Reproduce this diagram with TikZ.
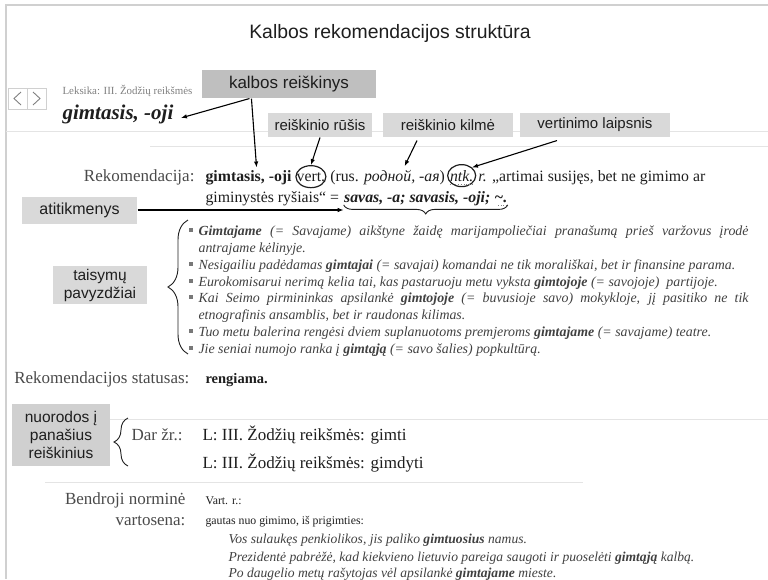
\documentclass[tikz,border=0pt]{standalone}
\usepackage{fontspec}
\setmainfont{Liberation Serif}
\setsansfont{Liberation Sans}
\usetikzlibrary{positioning,arrows.meta,shapes.geometric,decorations.pathreplacing}
\definecolor{lbox}{HTML}{D9D9D9}
\definecolor{dbox}{HTML}{BFBFBF}
\definecolor{lrule}{HTML}{E4E4E4}
\definecolor{frame}{HTML}{D0D0D0}
\definecolor{ltxt}{HTML}{4A4A4A}
\definecolor{ink}{HTML}{1E1E1E}

\begin{document}
\begin{tikzpicture}[x=1pt, y=-1pt, >={Latex[length=6pt,width=4.5pt]}, line width=1.1pt,
  tag/.style={fill=lbox, inner sep=0pt, align=center, text=ink,
    font=\sffamily\fontsize{15.5}{18}\selectfont},
  rtxt/.style={inner sep=0pt, text=ink, font=\fontsize{15.8}{18}\selectfont},
  lbl/.style={inner sep=0pt, text=ltxt, font=\fontsize{17}{19}\selectfont},
  extxt/.style={inner sep=0pt, anchor=base west, text=ink!85, font=\itshape\fontsize{13.9}{16}\selectfont},
  bul/.style={fill=ink!60, inner sep=0pt, minimum size=4pt},
  oval/.style={draw=ink, ellipse, inner sep=0pt, line width=1.2pt},
  brc/.style={decorate, draw=ink, line width=0.9pt},
  rule/.style={draw=lrule, line width=1pt}]
  \useasboundingbox (0,0) rectangle (768,579);

  % page frame and rules
  \draw[frame, line width=1.5pt] (768,5) -- (6,5) -- (6,579);
  \draw[rule] (6,131) -- (768,131);
  \draw[rule] (150,146) -- (768,146);
  \draw[rule] (40,419) -- (768,419);
  \draw[rule] (45,482) -- (583,482);

  % title
  \node[font=\sffamily\fontsize{19.4}{22}\selectfont, text=ink] (title) at (390,33) {Kalbos rekomendacijos struktūra};

  % navigation buttons
  \draw[frame, line width=0.8pt] (8,88) rectangle (27,109) (27,88) rectangle (46,109);
  \draw[gray, line width=0.9pt] (21,92) -- (14,98.5) -- (21,105);
  \draw[gray, line width=0.9pt] (33,92) -- (40,98.5) -- (33,105);

  % entry header
  \node[inner sep=0pt, anchor=base west, text=gray, font=\fontsize{10.9}{12}\selectfont] (path) at (62,94) {Leksika: III. Žodžių reikšmės};
  \node[inner sep=0pt, anchor=base west, text=ink, font=\bfseries\itshape\fontsize{21}{23}\selectfont] (hw) at (62,119) {gimtasis, -oji};

  % the recommendation
  \node[lbl, anchor=base east] (reklbl) at (195,181) {Rekomendacija:};
  \node[rtxt, anchor=base west] (rk1) at (205,181) {\textbf{gimtasis, -oji}};
  \node[rtxt, base right=4pt of rk1] (vert) {vert.};
  \node[rtxt, base right=4pt of vert] (rus) {(rus. \textit{родной, -ая})};
  \node[rtxt, base right=4pt of rus] (ntk) {\textit{ntk.}};
  \node[rtxt, base right=4pt of ntk] (rk2) {\textit{r.} „artimai susijęs, bet ne gimimo ar};
  \node[oval, minimum width=30pt, minimum height=22pt] (vertO) at (vert.center) {};
  \node[oval, minimum width=28pt, minimum height=22pt] (ntkO) at (ntk.center) {};
  \draw[gray, dotted, line width=0.8pt] ([yshift=-3pt]ntk.base west) -- ([yshift=-3pt]ntk.base east);

  \node[rtxt, anchor=base west] (rk3) at (205,202) {giminystės ryšiais“ =};
  \node[rtxt, base right=4pt of rk3] (savas) {\textbf{\textit{savas, -a; savasis, -oji; \char"7E.}}};
  \draw[gray, dotted, line width=0.8pt] ([xshift=-10pt,yshift=-3pt]savas.base east) -- ([yshift=-3pt]savas.base east);
  \draw[brc, decoration={brace, amplitude=9pt}] ([yshift=1pt]savas.south east) -- ([yshift=1pt]savas.south west);

  % correction examples
  \node[bul] (b1) at (191,230) {};
  \node[extxt] (ex1) at (198,235) {\makebox[550pt][s]{\textbf{Gimtajame} (= Savajame) aikštyne žaidę marijampoliečiai pranašumą prieš varžovus įrodė}};
  \node[extxt] (ex2) at (198,252) {antrajame kėlinyje.};
  \node[bul] (b3) at (191,264) {};
  \node[extxt] (ex3) at (198,269) {Nesigailiu padėdamas \textbf{gimtajai} (= savajai) komandai ne tik morališkai, bet ir finansine parama.};
  \node[bul] (b4) at (191,281) {};
  \node[extxt] (ex4) at (198,286) {Eurokomisarui nerimą kelia tai, kas pastaruoju metu vyksta \textbf{gimtojoje} (= savojoje)\ \ partijoje.};
  \node[bul] (b5) at (191,297) {};
  \node[extxt] (ex5) at (198,302) {\makebox[550pt][s]{Kai Seimo pirmininkas apsilankė \textbf{gimtojoje} (= buvusioje savo) mokykloje, jį pasitiko ne tik}};
  \node[extxt] (ex6) at (198,319) {etnografinis ansamblis, bet ir raudonas kilimas.};
  \node[bul] (b7) at (191,331) {};
  \node[extxt] (ex7) at (198,336) {Tuo metu balerina rengėsi dviem suplanuotoms premjeroms \textbf{gimtajame} (= savajame) teatre.};
  \node[bul] (b8) at (191,348) {};
  \node[extxt] (ex8) at (198,353) {Jie seniai numojo ranka į \textbf{gimtąją} (= savo šalies) popkultūrą.};
  \draw[brc, decoration={brace, amplitude=20pt}] (188,354) -- (188,220);

  % status
  \node[lbl, anchor=base east] (statlbl) at (190,383) {Rekomendacijos statusas:};
  \node[rtxt, anchor=base west, font=\fontsize{14.5}{16}\selectfont] (stat) at (205,383) {\textbf{rengiama.}};

  % see also
  \node[lbl, anchor=base west] (dar) at (131,440) {Dar žr.:};
  \node[lbl, anchor=base west, text=ink] (see1) at (202,440) {L: III. Žodžių reikšmės: gimti};
  \node[lbl, anchor=base west, text=ink] (see2) at (202,468) {L: III. Žodžių reikšmės: gimdyti};
  \draw[brc, decoration={brace, amplitude=14pt}] (128,466) -- (128,418);

  % general usage
  \node[lbl, anchor=base east] (bnlbl) at (186,504) {Bendroji norminė};
  \node[lbl, anchor=base east] (vlbl) at (186,525) {vartosena:};
  \node[inner sep=0pt, anchor=base west, text=ink, font=\fontsize{11.8}{13}\selectfont] (vr) at (205,504) {Vart. r.:};
  \node[inner sep=0pt, anchor=base west, text=ink, font=\fontsize{11.8}{13}\selectfont] (gaut) at (205,524) {gautas nuo gimimo, iš prigimties:};
  \node[extxt, font=\itshape\fontsize{13.6}{15}\selectfont] (us1) at (228,543) {Vos sulaukęs penkiolikos, jis paliko \textbf{gimtuosius} namus.};
  \node[extxt, font=\itshape\fontsize{13.6}{15}\selectfont] (us2) at (228,561) {Prezidentė pabrėžė, kad kiekvieno lietuvio pareiga saugoti ir puoselėti \textbf{gimtąją} kalbą.};
  \node[extxt, font=\itshape\fontsize{13.6}{15}\selectfont] (us3) at (228,577) {Po daugelio metų rašytojas vėl apsilankė \textbf{gimtajame} mieste.};

  % callout boxes
  \node[tag, fill=dbox, minimum width=174pt, minimum height=28pt, font=\sffamily\fontsize{17}{19}\selectfont] (kr) at (289,84) {kalbos reiškinys};
  \node[tag, minimum width=104pt, minimum height=24pt, font=\sffamily\fontsize{15}{17}\selectfont] (rusis) at (320,125) {reiškinio rūšis};
  \node[tag, minimum width=130pt, minimum height=24pt, font=\sffamily\fontsize{15}{17}\selectfont] (kilme) at (448,125) {reiškinio kilmė};
  \node[tag, minimum width=150pt, minimum height=24pt, font=\sffamily\fontsize{15}{17}\selectfont] (laip) at (595,125) {vertinimo laipsnis};
  \node[tag, minimum width=115pt, minimum height=27pt, font=\sffamily\fontsize{16}{18}\selectfont] (atit) at (79.5,210) {atitikmenys};
  \node[tag, minimum width=94pt, minimum height=38pt] (tais) at (100,285) {taisymų\\pavyzdžiai};
  \node[tag, fill=lbox!90!gray, minimum width=98pt, minimum height=62pt] (nuor) at (61,435) {nuorodos į\\panašius\\reiškinius};

  % pointers
  \draw[->] ([xshift=48pt]kr.south west) -- ([xshift=7pt,yshift=-4pt]hw.east);
  \draw[->] ([xshift=50pt]kr.south west) -- ([xshift=8pt,yshift=2pt]rk1.north);
  \draw[->] (rusis.south) -- (vertO.north);
  \draw[->] ([xshift=-31pt,yshift=-3pt]kilme.south) -- ([xshift=17pt,yshift=3pt]rus.north);
  \draw[->] ([xshift=-38pt,yshift=-3pt]laip.south) -- (ntkO.north east);
  \draw[->] (atit.east) -- (atit.east -| savas.west);
\end{tikzpicture}
\end{document}
